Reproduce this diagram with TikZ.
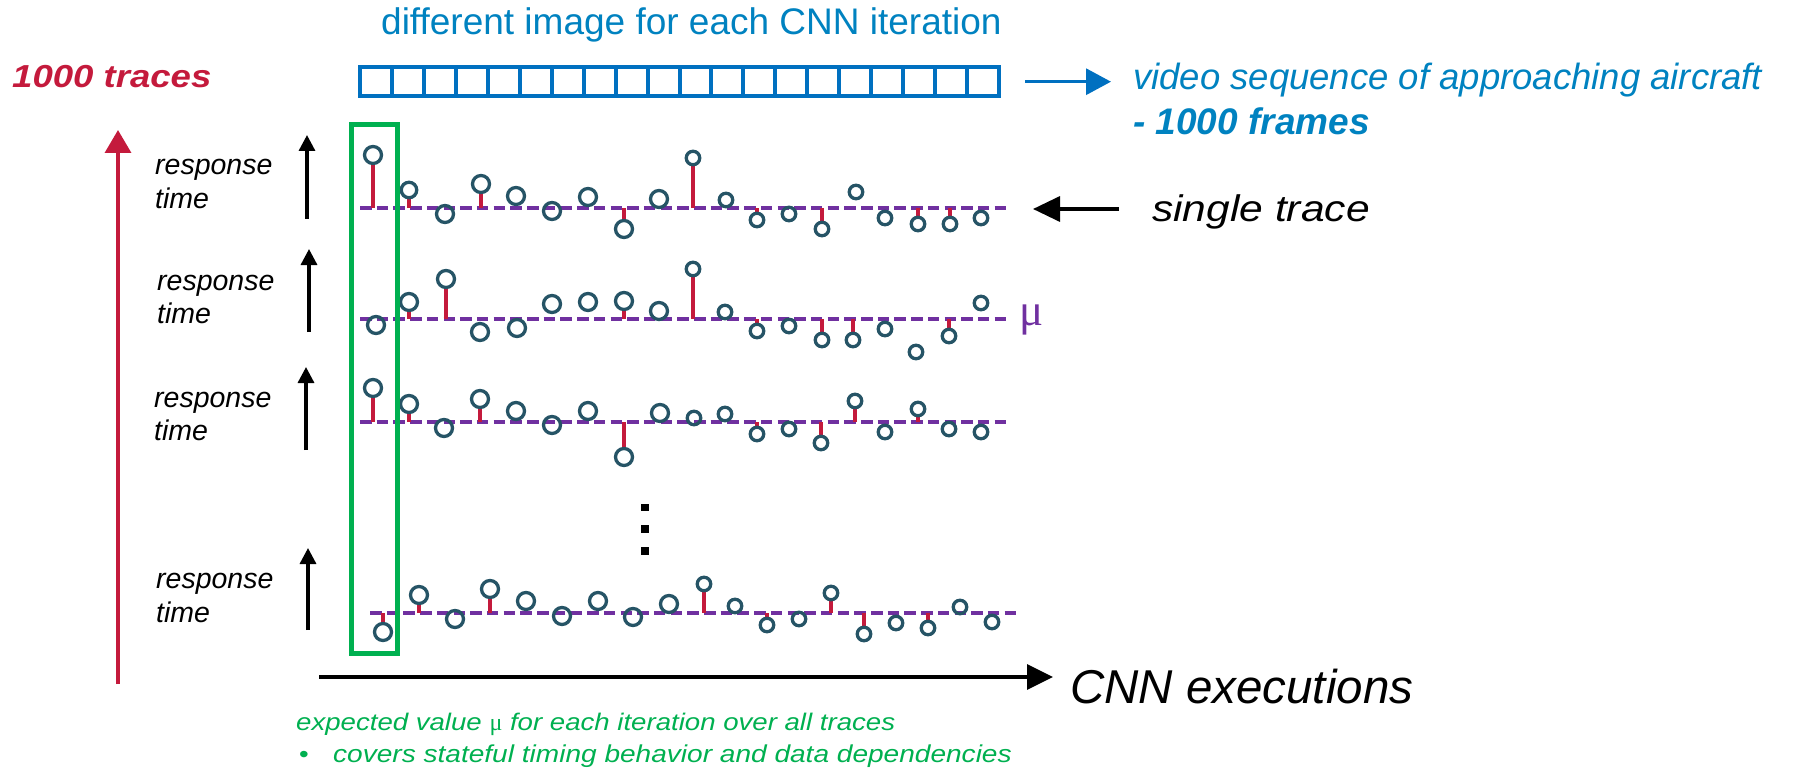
\documentclass[tikz,border=0pt]{standalone}
\usepackage{fontspec}
\setmainfont{Liberation Sans}
\newfontfamily\mufont{Liberation Serif}
\newfontfamily\widesans[FakeStretch=1.15]{Liberation Sans}
\usetikzlibrary{arrows.meta}
\definecolor{boxblue}{RGB}{0,112,192}
\definecolor{txtblue}{RGB}{0,130,192}
\definecolor{crimson}{RGB}{196,26,60}
\definecolor{mupurple}{RGB}{112,48,160}
\definecolor{dotc}{RGB}{38,84,102}
\definecolor{grn}{RGB}{0,176,80}
\pgfdeclarelayer{bg}
\pgfsetlayers{bg,main}
\tikzset{
  frame/.style={draw=boxblue, line width=4pt, minimum width=31.95pt, minimum height=29pt, inner sep=0pt},
  pt/.style={circle, draw=dotc, line width=3.3pt, inner sep=0pt, outer sep=0pt},
  stem/.style={draw=crimson, line width=3.6pt},
  mudash/.style={draw=mupurple, line width=4pt, dash pattern=on 11.5pt off 5.2pt},
  rtarrow/.style={draw=black, line width=3.3pt, -{Triangle[length=16pt,width=16pt]}},
  rtlabel/.style={anchor=base west, inner sep=0pt, font=\fontsize{28.5}{31}\selectfont\itshape},
  sqdot/.style={fill=black, minimum size=7.5pt, inner sep=0pt},
}
\begin{document}
\begin{tikzpicture}[x=1pt,y=-1pt]
\useasboundingbox (0,0) rectangle (1794,770);

% title and frames
\node[anchor=base west, inner sep=0pt, text=txtblue, font=\fontsize{37}{44}\selectfont] (title) at (381,35) {different image for each CNN iteration};
\foreach \i in {0,...,19} {
  \node[frame] (f\i) at ({360+31.95*\i+15.975},81.5) {};
}
\coordinate (ba1) at (1025,81.7);
\coordinate (ba2) at (1111,81.7);
\draw[draw=boxblue, line width=3.3pt, -{Triangle[length=25pt,width=26pt]}] (ba1) -- (ba2);
\node[anchor=base west, inner sep=0pt, text=txtblue, font=\fontsize{36.5}{44}\selectfont\itshape] (video) at (1133,90) {video sequence of approaching aircraft};
\node[anchor=base west, inner sep=0pt, text=txtblue, font=\fontsize{37}{44}\selectfont\bfseries\itshape] (frames) at (1133,135) {- 1000 frames};

% 1000 traces
\node[anchor=base west, inner sep=0pt, text=crimson, font=\fontsize{31.8}{38}\selectfont\widesans\bfseries\itshape] (traces) at (12,88) {1000 traces};
\coordinate (ra1) at (118,684);
\coordinate (ra2) at (118,130);
\draw[draw=crimson, line width=3.5pt, -{Triangle[length=23pt,width=26pt]}] (ra1) -- (ra2);

% response time labels and arrows
\node[rtlabel] (r1a) at (155,175) {response};
\node[rtlabel] (r1b) at (155,209) {time};
\node[rtlabel] (r2a) at (157,290) {response};
\node[rtlabel] (r2b) at (157,323) {time};
\node[rtlabel] (r3a) at (154,407) {response};
\node[rtlabel] (r3b) at (154,440) {time};
\node[rtlabel] (r4a) at (156,588) {response};
\node[rtlabel] (r4b) at (156,622) {time};
\coordinate (a1s) at (307,219); \coordinate (a1e) at (307,135);
\coordinate (a2s) at (309,332); \coordinate (a2e) at (309,249);
\coordinate (a3s) at (306,450); \coordinate (a3e) at (306,367);
\coordinate (a4s) at (308,630); \coordinate (a4e) at (308,548);
\draw[rtarrow] (a1s) -- (a1e);
\draw[rtarrow] (a2s) -- (a2e);
\draw[rtarrow] (a3s) -- (a3e);
\draw[rtarrow] (a4s) -- (a4e);

% traces
\coordinate (b1s) at (360,208.3); \coordinate (b1e) at (1010,208.3);
\coordinate (b2s) at (360,319.3); \coordinate (b2e) at (1010,319.3);
\coordinate (b3s) at (360,422);   \coordinate (b3e) at (1010,422);
\coordinate (b4s) at (370,612.7); \coordinate (b4e) at (1018,612.7);
\begin{pgfonlayer}{bg}
\draw[mudash] (b1s) -- (b1e);
\draw[mudash] (b2s) -- (b2e);
\draw[mudash] (b3s) -- (b3e);
\draw[mudash] (b4s) -- (b4e);
\end{pgfonlayer}

\foreach \x/\y/\d/\s [count=\j] in {373/155/17/1,409/190/15.5/1,445/214/17/0,481/184/17/1,516/196/17/0,552/211/17/0,588/197/17/0,624/229/17/1,659/199/17/0,693/158/13.5/1,726/200/13.5/0,757/220/13.5/1,789/214/13.5/0,822/229/13.5/1,856/192/13.5/0,885/218/13.5/0,918/224/13.5/1,950/224/13.5/1,981/218/13.5/0} {
  \node[pt, minimum size=\d pt] (t1-\j) at (\x,\y) {};
  \ifnum\s=1 \begin{pgfonlayer}{bg}\draw[stem] (t1-\j) -- (t1-\j |- b1s);\end{pgfonlayer}\fi
}
\foreach \x/\y/\d/\s [count=\j] in {376/325/17/0,409/302/17/1,446/279/17/1,480/332/17/0,517/328/17/0,552/304/17/0,588/302/17/0,624/301/17/1,659/311/17/0,693/269/13.5/1,725/312/13.5/0,757/331/13.5/1,789/326/13.5/0,822/340/13.5/1,853/340/13.5/1,885/329/13.5/0,916/352/13.5/0,949/336/13.5/1,981/303/13.5/0} {
  \node[pt, minimum size=\d pt] (t2-\j) at (\x,\y) {};
  \ifnum\s=1 \begin{pgfonlayer}{bg}\draw[stem] (t2-\j) -- (t2-\j |- b2s);\end{pgfonlayer}\fi
}
\foreach \x/\y/\d/\s [count=\j] in {373/388/17/1,409/404/17/1,444/428/17/0,480/399/17/1,516/411/17/0,552/425/17/0,588/411/17/0,624/457/17/1,660/413/17/0,694/418/13.5/0,725/414/13.5/0,757/434/13.5/1,789/429/13.5/0,821/443/13.5/1,855/401/13.5/1,885/432/13.5/0,918/409/13.5/1,949/429/13.5/0,981/432/13.5/0} {
  \node[pt, minimum size=\d pt] (t3-\j) at (\x,\y) {};
  \ifnum\s=1 \begin{pgfonlayer}{bg}\draw[stem] (t3-\j) -- (t3-\j |- b3s);\end{pgfonlayer}\fi
}
\foreach \x/\y/\d/\s [count=\j] in {383/632/17/1,419/595/17/1,455/619/17/0,490/589/17/1,526/601/17/0,562/616/17/0,598/601/17/0,633/617/17/0,669/604/17/0,704/584/13.5/1,735/606/13.5/0,767/625/13.5/1,799/619/13.5/0,831/593/13.5/1,864/634/13.5/1,896/623/13.5/0,928/628/13.5/1,960/607/13.5/0,992/622/13.5/0} {
  \node[pt, minimum size=\d pt] (t4-\j) at (\x,\y) {};
  \ifnum\s=1 \begin{pgfonlayer}{bg}\draw[stem] (t4-\j) -- (t4-\j |- b4s);\end{pgfonlayer}\fi
}

% mu label and single trace
\node[anchor=base west, inner sep=0pt, text=mupurple, font=\fontsize{45}{50}\selectfont\mufont] (mu) at (1019,325) {μ};
\coordinate (sa1) at (1119,209);
\coordinate (sa2) at (1033,209);
\draw[draw=black, line width=3.5pt, -{Triangle[length=27pt,width=25pt]}] (sa1) -- (sa2);
\node[anchor=base west, inner sep=0pt, font=\fontsize{37}{42}\selectfont\widesans\itshape] (single) at (1152,222) {single trace};

% vertical dots
\node[sqdot] (d1) at (645,507.7) {};
\node[sqdot] (d2) at (645,529) {};
\node[sqdot] (d3) at (645,551) {};

% green selection box
\node[draw=grn, line width=5.5pt, minimum width=45.6pt, minimum height=529pt, inner sep=0pt] (sel) at (374.5,389) {};

% CNN executions axis
\coordinate (ca1) at (319,677);
\coordinate (ca2) at (1053,677);
\draw[draw=black, line width=3.5pt, -{Triangle[length=26pt,width=25pt]}] (ca1) -- (ca2);
\node[anchor=base west, inner sep=0pt, font=\fontsize{47.5}{54}\selectfont\itshape] (cnn) at (1070,703) {CNN executions};

% green notes
\node[anchor=base west, inner sep=0pt, text=grn, font=\fontsize{24}{28}\selectfont\widesans\itshape] (note1) at (296,730) {expected value {\mufont\upshape μ} for each iteration over all traces};
\node[anchor=base west, inner sep=0pt, text=grn, font=\fontsize{24}{28}\selectfont\widesans] (bul) at (299,762) {•};
\node[anchor=base west, inner sep=0pt, text=grn, font=\fontsize{24.4}{28}\selectfont\widesans\itshape] (note2) at (333,762) {covers stateful timing behavior and data dependencies};
\end{tikzpicture}
\end{document}
